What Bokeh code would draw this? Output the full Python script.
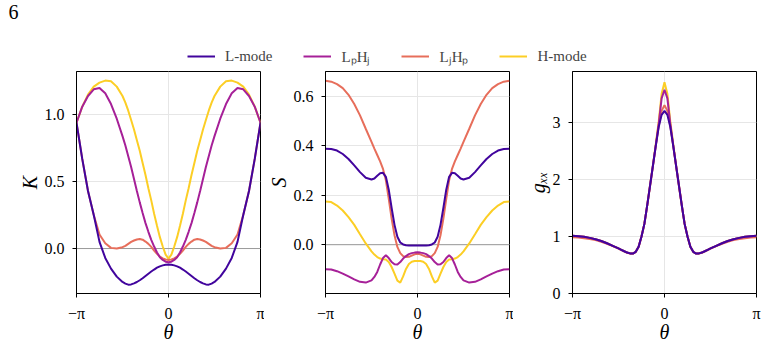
from bokeh.plotting import figure
from bokeh.layouts import column, row
from bokeh.models import (Range1d, FixedTicker, Span, Legend, LegendItem, Label,
                          NumeralTickFormatter)
from bokeh.embed import file_html
from bokeh.resources import INLINE

FONT = "Liberation Serif"

# theta in units of pi
TH = [-1.0, -0.9375, -0.875, -0.8125, -0.75, -0.6875, -0.625, -0.5625, -0.5,
      -0.46875, -0.4375, -0.40625, -0.375, -0.34375, -0.3125, -0.28125, -0.25,
      -0.21875, -0.1875, -0.15625, -0.125, -0.09375, -0.0625, -0.03125, 0.0,
      0.03125, 0.0625, 0.09375, 0.125, 0.15625, 0.1875, 0.21875, 0.25, 0.28125,
      0.3125, 0.34375, 0.375, 0.40625, 0.4375, 0.46875, 0.5, 0.5625, 0.625,
      0.6875, 0.75, 0.8125, 0.875, 0.9375, 1.0]

SERIES = ["L-mode", "LₚHⱼ", "LⱼHₚ", "H-mode"]
COLORS = ["#41049d", "#a62098", "#e76e5b", "#fcce25"]

# Panel 1: K
K_L = [0.94, 0.67, 0.43, 0.25, 0.05, -0.07, -0.15, -0.21, -0.25, -0.262, -0.27, -0.268,
       -0.26, -0.25, -0.237, -0.222, -0.205, -0.188, -0.172, -0.157, -0.143, -0.133,
       -0.126, -0.121, -0.12,
       -0.121, -0.126, -0.133, -0.143, -0.157, -0.172, -0.188, -0.205, -0.222, -0.237,
       -0.25, -0.26, -0.268, -0.27, -0.262, -0.25, -0.21, -0.15, -0.07, 0.05, 0.25,
       0.43, 0.67, 0.94]
K_LPHJ = [0.94, 1.06, 1.14, 1.19, 1.20, 1.16, 1.08, 0.97, 0.84, 0.77, 0.69, 0.61, 0.52,
          0.43, 0.345, 0.265, 0.19, 0.125, 0.065, 0.015, -0.03, -0.065, -0.085, -0.098,
          -0.102,
          -0.098, -0.085, -0.065, -0.03, 0.015, 0.065, 0.125, 0.19, 0.265, 0.345, 0.43,
          0.52, 0.61, 0.69, 0.77, 0.84, 0.97, 1.08, 1.16, 1.20, 1.19, 1.14, 1.06, 0.94]
K_LJHP = [0.94, 0.67, 0.43, 0.25, 0.105, 0.04, 0.005, 0.0, 0.01, 0.02, 0.035, 0.05, 0.06,
          0.068, 0.071, 0.066, 0.052, 0.035, 0.012, -0.015, -0.04, -0.06, -0.074, -0.082,
          -0.085,
          -0.082, -0.074, -0.06, -0.04, -0.015, 0.012, 0.035, 0.052, 0.066, 0.071, 0.068,
          0.06, 0.05, 0.035, 0.02, 0.01, 0.0, 0.005, 0.04, 0.105, 0.25, 0.43, 0.67, 0.94]
K_H = [0.94, 1.06, 1.15, 1.21, 1.24, 1.255, 1.25, 1.21, 1.14, 1.09, 1.03, 0.96, 0.89,
       0.81, 0.73, 0.64, 0.55, 0.45, 0.36, 0.26, 0.17, 0.085, 0.015, -0.045, -0.075,
       -0.045, 0.015, 0.085, 0.17, 0.26, 0.36, 0.45, 0.55, 0.64, 0.73, 0.81, 0.89, 0.96,
       1.03, 1.09, 1.14, 1.21, 1.25, 1.255, 1.24, 1.21, 1.15, 1.06, 0.94]

# Panel 2: S
S_L = [0.387, 0.386, 0.38, 0.366, 0.346, 0.32, 0.293, 0.27, 0.263, 0.267, 0.278, 0.288,
       0.29, 0.274, 0.222, 0.148, 0.08, 0.032, 0.009, 0.001, -0.002, -0.003, -0.003,
       -0.003, -0.003,
       -0.003, -0.003, -0.003, -0.002, 0.001, 0.009, 0.032, 0.08, 0.148, 0.222, 0.274,
       0.29, 0.288, 0.278, 0.267, 0.263, 0.27, 0.293, 0.32, 0.346, 0.366, 0.38, 0.386,
       0.387]
S_LPHJ = [-0.099, -0.10, -0.107, -0.117, -0.128, -0.14, -0.15, -0.153, -0.144, -0.13,
          -0.11, -0.08, -0.054, -0.043, -0.054, -0.07, -0.079, -0.08, -0.07, -0.056,
          -0.046, -0.038, -0.034, -0.032, -0.031,
          -0.032, -0.034, -0.038, -0.046, -0.056, -0.07, -0.08, -0.079, -0.07, -0.054,
          -0.043, -0.054, -0.08, -0.11, -0.13, -0.144, -0.153, -0.15, -0.14, -0.128,
          -0.117, -0.107, -0.10, -0.099]
S_LJHP = [0.662, 0.658, 0.648, 0.632, 0.605, 0.568, 0.522, 0.468, 0.415, 0.388, 0.362,
          0.336, 0.306, 0.26, 0.185, 0.105, 0.038, -0.009, -0.034, -0.046, -0.05, -0.049,
          -0.044, -0.039, -0.037,
          -0.039, -0.044, -0.049, -0.05, -0.046, -0.034, -0.009, 0.038, 0.105, 0.185,
          0.26, 0.306, 0.336, 0.362, 0.388, 0.415, 0.468, 0.522, 0.568, 0.605, 0.632,
          0.648, 0.658, 0.662]
S_H = [0.174, 0.172, 0.158, 0.138, 0.111, 0.08, 0.042, 0.005, -0.027, -0.04, -0.05,
       -0.056, -0.059, -0.06, -0.07, -0.09, -0.117, -0.145, -0.153, -0.128, -0.098,
       -0.078, -0.069, -0.066, -0.066,
       -0.066, -0.069, -0.078, -0.098, -0.128, -0.153, -0.145, -0.117, -0.09, -0.07,
       -0.06, -0.059, -0.056, -0.05, -0.04, -0.027, 0.005, 0.042, 0.08, 0.111, 0.138,
       0.158, 0.172, 0.174]

# Panel 3: g_xx
G_L = [1.01, 1.005, 0.995, 0.975, 0.95, 0.92, 0.88, 0.835, 0.79, 0.765, 0.74, 0.717,
       0.703, 0.70, 0.73, 0.82, 1.0, 1.22, 1.55, 1.9, 2.25, 2.6, 2.92, 3.13, 3.20,
       3.13, 2.92, 2.6, 2.25, 1.9, 1.55, 1.22, 1.0, 0.82, 0.73, 0.70, 0.703, 0.717, 0.74,
       0.765, 0.79, 0.835, 0.88, 0.92, 0.95, 0.975, 0.995, 1.005, 1.01]
G_LPHJ = [1.01, 1.005, 0.995, 0.975, 0.95, 0.92, 0.88, 0.835, 0.79, 0.765, 0.74, 0.717,
          0.703, 0.70, 0.73, 0.82, 1.0, 1.22, 1.55, 1.9, 2.25, 2.61, 2.98, 3.42, 3.57,
          3.42, 2.98, 2.61, 2.25, 1.9, 1.55, 1.22, 1.0, 0.82, 0.73, 0.70, 0.703, 0.717,
          0.74, 0.765, 0.79, 0.835, 0.88, 0.92, 0.95, 0.975, 0.995, 1.005, 1.01]
G_LJHP = [0.985, 0.98, 0.97, 0.955, 0.935, 0.905, 0.87, 0.83, 0.785, 0.76, 0.737, 0.714,
          0.702, 0.70, 0.73, 0.82, 1.0, 1.22, 1.55, 1.9, 2.25, 2.6, 2.94, 3.2, 3.30,
          3.2, 2.94, 2.6, 2.25, 1.9, 1.55, 1.22, 1.0, 0.82, 0.73, 0.70, 0.702, 0.714,
          0.737, 0.76, 0.785, 0.83, 0.87, 0.905, 0.935, 0.955, 0.97, 0.98, 0.985]
G_H = [1.01, 1.005, 0.995, 0.975, 0.95, 0.92, 0.88, 0.835, 0.79, 0.765, 0.74, 0.717,
       0.703, 0.70, 0.73, 0.82, 1.0, 1.22, 1.55, 1.9, 2.25, 2.63, 3.02, 3.50, 3.70,
       3.50, 3.02, 2.63, 2.25, 1.9, 1.55, 1.22, 1.0, 0.82, 0.73, 0.70, 0.703, 0.717,
       0.74, 0.765, 0.79, 0.835, 0.88, 0.92, 0.95, 0.975, 0.995, 1.005, 1.01]

X_TICKS = [-1, 0, 1]
X_LABELS = {-1: "−π", 0: "0", 1: "π"}


def panel(ylabel, series, yr, yticks, fmt, zero_line, bl, br):
    p = figure(frame_width=184, frame_height=222, min_border_left=bl,
               min_border_right=br, min_border_top=5, min_border_bottom=48,
               x_range=Range1d(-1, 1), y_range=Range1d(*yr),
               output_backend="svg", toolbar_location=None)
    p.outline_line_color = "black"
    p.outline_line_width = 1
    p.outline_line_alpha = 1
    p.background_fill_color = "white"
    p.border_fill_color = "white"
    p.xaxis.ticker = FixedTicker(ticks=X_TICKS)
    p.xaxis.major_label_overrides = X_LABELS
    p.yaxis.ticker = FixedTicker(ticks=yticks)
    p.yaxis.formatter = NumeralTickFormatter(format=fmt)
    p.xaxis.axis_label = "θ"
    p.yaxis.axis_label = ylabel
    for ax in p.axis:
        ax.axis_line_color = "black"
        ax.major_tick_line_color = "black"
        ax.major_tick_out = 4
        ax.major_tick_in = 0
        ax.minor_tick_out = 0
        ax.minor_tick_in = 0
        ax.major_label_text_font = FONT
        ax.major_label_text_font_size = "16px"
        ax.major_label_text_color = "black"
        ax.axis_label_text_font = FONT
        ax.axis_label_text_font_size = "20px"
        ax.axis_label_text_font_style = "italic"
        ax.axis_label_text_color = "black"
    p.xaxis.major_label_standoff = 7
    p.xaxis.axis_label_standoff = -4
    p.yaxis.major_label_standoff = 8
    p.yaxis.axis_label_standoff = 1
    p.xgrid.grid_line_color = "#e6e6e6"
    p.ygrid.grid_line_color = "#e6e6e6"
    if zero_line:
        p.add_layout(Span(location=0, dimension="width", line_color="#999999",
                          line_width=1, level="underlay"))
    for ys, c in reversed(list(zip(series, COLORS))):
        p.line(TH, ys, line_color=c, line_width=2)
    return p


p1 = panel("K", [K_L, K_LPHJ, K_LJHP, K_H], (-0.336, 1.323), [0, 0.5, 1.0], "0.0",
           True, 76, 4)
p2 = panel("S", [S_L, S_LPHJ, S_LJHP, S_H], (-0.197, 0.699), [0, 0.2, 0.4, 0.6], "0.0",
           True, 60, 4)
p3 = panel("gₓₓ", [G_L, G_LPHJ, G_LJHP, G_H], (0, 3.89), [0, 1, 2, 3], "0",
           False, 59, 11)

hdr = figure(width=766, height=66, x_range=Range1d(0, 1), y_range=Range1d(0, 1),
             x_axis_type=None, y_axis_type=None, toolbar_location=None,
             output_backend="svg", min_border=0, outline_line_color=None)
NAN = float("nan")
items = []
for name, c in zip(SERIES, COLORS):
    r = hdr.line(x=[NAN], y=[NAN], line_color=c, line_width=2)
    items.append(LegendItem(label=name, renderers=[r]))
leg = Legend(items=items, orientation="horizontal", location=(187, 0),
             padding=0, margin=0, spacing=31, glyph_width=28, glyph_height=20,
             label_standoff=10, label_text_font=FONT, label_text_font_size="15px",
             border_line_color=None, background_fill_alpha=0)
hdr.add_layout(leg)
hdr.add_layout(Label(x=8, y=62, x_units="screen", y_units="screen", text="6",
                     text_baseline="top", text_font=FONT, text_font_size="20px",
                     text_color="black"))

layout = column(hdr, row(p1, p2, p3))
open("out.html", "w").write(file_html(layout, INLINE))
